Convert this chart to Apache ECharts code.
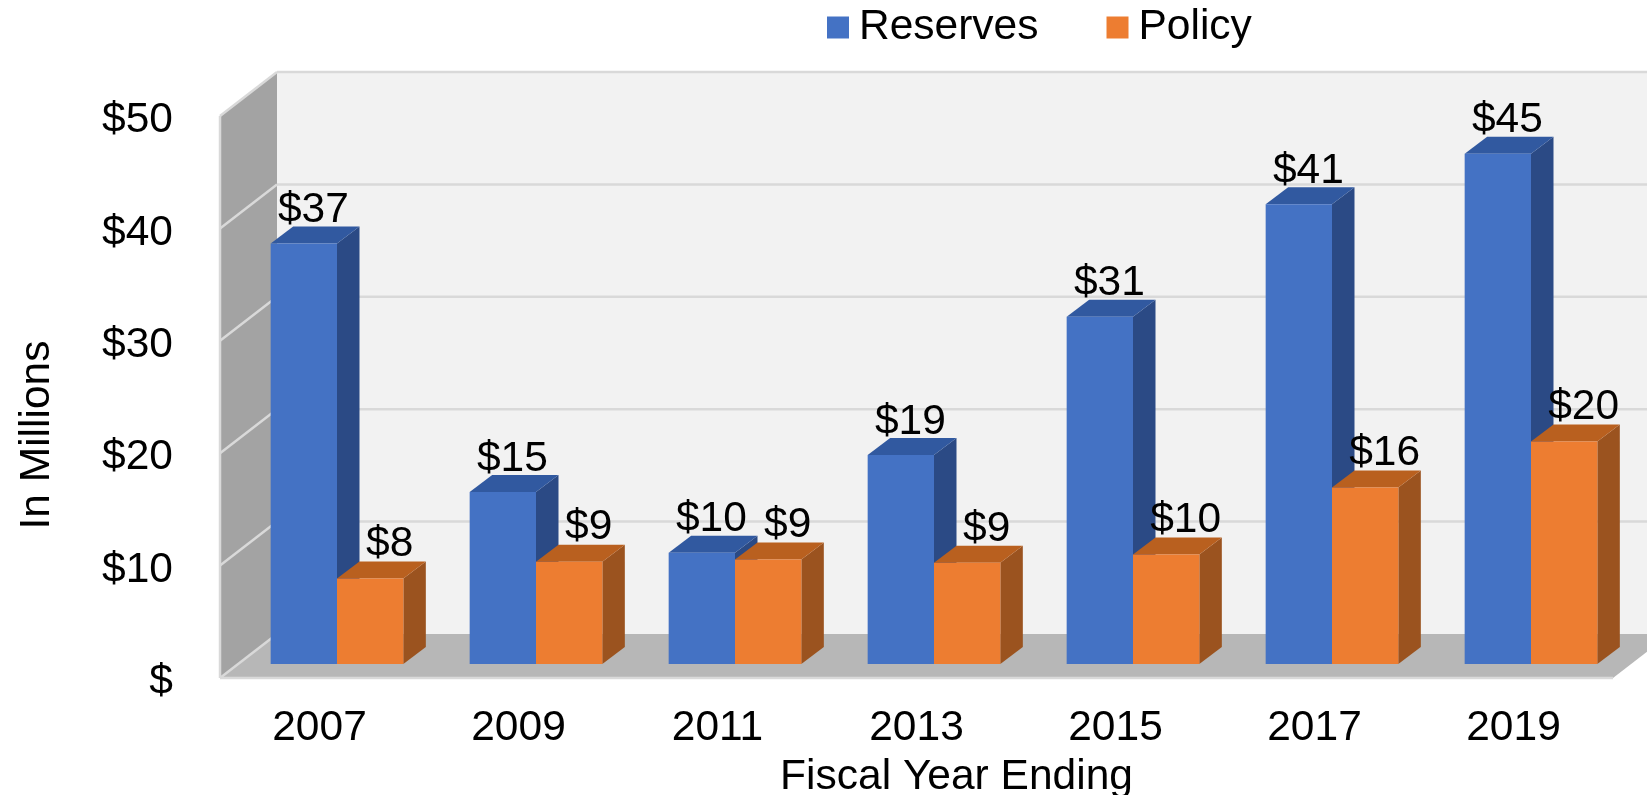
<!DOCTYPE html>
<html>
<head>
<meta charset="utf-8">
<style>html,body{margin:0;padding:0;background:#fff;overflow:hidden}#c{width:1647px;height:795px}</style>
<script src="https://cdn.jsdelivr.net/npm/echarts@6/dist/echarts.min.js"></script>
</head>
<body>
<div id="c"></div>
<script>
var categories = ['2007','2009','2011','2013','2015','2017','2019'];
var reserves = [37.4, 15.3, 9.9, 18.6, 30.9, 40.9, 45.4];
var policy = [7.6, 9.1, 9.3, 9.0, 9.75, 15.7, 19.8];
var yTicks = [0, 10, 20, 30, 40, 50];

var FONT = '"Liberation Sans", Arial, sans-serif';
var FS = 42.5;
// Oblique projection of the 3D chart box (pixels)
var BOX_DX = 57, BOX_DY = 44;   // full floor depth
var BAR_OX = 17.5, BAR_OY = 14; // bar front plane offset from front of box
var BAR_DX = 22.5, BAR_DY = 17; // bar depth

function poly(points, fill, z2) {
  return { type: 'polygon', shape: { points: points }, style: { fill: fill }, z2: z2 || 0, silent: true };
}
function seg(x1, y1, x2, y2) {
  return { type: 'line', shape: { x1: x1, y1: y1, x2: x2, y2: y2 },
    style: { stroke: '#D9D9D9', lineWidth: 2.5, fill: null }, silent: true };
}

function renderBox(params, api) {
  var cs = params.coordSys;
  var l = cs.x, r = cs.x + cs.width, t = cs.y, b = cs.y + cs.height;
  var ch = [
    poly([[l + BOX_DX, t - BOX_DY], [r + BOX_DX, t - BOX_DY], [r + BOX_DX, b - BOX_DY], [l + BOX_DX, b - BOX_DY]], '#F2F2F2'),
    poly([[l, t], [l + BOX_DX, t - BOX_DY], [l + BOX_DX, b - BOX_DY], [l, b]], '#A3A3A3'),
    poly([[l, b], [r, b], [r + BOX_DX, b - BOX_DY], [l + BOX_DX, b - BOX_DY]], '#B7B7B7')
  ];
  yTicks.forEach(function (v) {
    var y = api.coord([0, v])[1];
    if (v > 0) ch.push(seg(l + BOX_DX, y - BOX_DY, r + BOX_DX, y - BOX_DY));
    ch.push(seg(l, y, l + BOX_DX, y - BOX_DY));
  });
  ch.push(seg(l, t, l, b));
  ch.push(seg(l, b, r, b));
  return { type: 'group', children: ch };
}

function makeBar(side, front, top, dark, labelShift, labelLift) {
  return function (params, api) {
    var c = api.coord([api.value(0), api.value(1)]);
    var base = api.coord([api.value(0), 0]);
    var w = api.size([1, 0])[0] / 3;
    var cx = c[0] + BAR_OX;
    var x0 = side < 0 ? cx - w : cx;
    var x1 = x0 + w;
    var yt = c[1] - BAR_OY, yb = base[1] - BAR_OY;
    return { type: 'group', children: [
      poly([[x1, yt], [x1 + BAR_DX, yt - BAR_DY], [x1 + BAR_DX, yb - BAR_DY], [x1, yb]], dark),
      poly([[x0, yt], [x1, yt], [x1 + BAR_DX, yt - BAR_DY], [x0 + BAR_DX, yt - BAR_DY]], top),
      { type: 'rect', shape: { x: x0, y: yt, width: w, height: yb - yt }, style: { fill: front } },
      { type: 'text', z2: 10, style: {
        text: '$' + Math.round(api.value(1)),
        x: (x0 + x1) / 2 + labelShift, y: yt - BAR_DY - labelLift,
        align: 'center', verticalAlign: 'middle',
        font: FS + 'px ' + FONT, fill: '#000' } }
    ] };
  };
}

function pairs(values) {
  return values.map(function (v, i) { return [i, v]; });
}

var chart = echarts.init(document.getElementById('c'), null, { renderer: 'canvas' });
chart.setOption({
  animation: false,
  backgroundColor: '#fff',
  legend: {
    data: [{ name: 'Reserves', icon: 'rect' }, { name: 'Policy', icon: 'rect' }],
    left: 827, top: 6, itemWidth: 22, itemHeight: 22, itemGap: 68,
    padding: 0, selectedMode: false,
    textStyle: { fontFamily: FONT, fontSize: FS, color: '#000', padding: [4, 0, 0, 5] }
  },
  grid: { left: 220, top: 116, width: 1393, height: 562, containLabel: false, outerBoundsMode: 'none' },
  xAxis: {
    type: 'category', data: categories,
    name: 'Fiscal Year Ending', nameLocation: 'middle', nameGap: 78, nameMoveOverlap: false,
    nameTextStyle: { fontFamily: FONT, fontSize: FS, color: '#000', padding: [0, 0, 0, 80] },
    axisLine: { show: false }, axisTick: { show: false },
    axisLabel: { fontFamily: FONT, fontSize: FS, color: '#000', margin: 29 }
  },
  yAxis: {
    type: 'value', min: 0, max: 50, interval: 10,
    name: 'In Millions', nameLocation: 'middle', nameGap: 161, nameMoveOverlap: false,
    nameTextStyle: { fontFamily: FONT, fontSize: FS, color: '#000', padding: [0, 76, 0, 0] },
    axisLine: { show: false }, axisTick: { show: false }, splitLine: { show: false },
    axisLabel: { fontFamily: FONT, fontSize: FS, color: '#000', margin: 47,
      formatter: function (v) { return '{t|' + (v === 0 ? '$' : '$' + v) + '}'; },
      rich: { t: { fontFamily: FONT, fontSize: FS, color: '#000', padding: [9, 0, 0, 0] } } }
  },
  series: [
    { type: 'custom', name: 'box', silent: true, z: 1, renderItem: renderBox, data: [[0, 0]], encode: { x: 0, y: 1 } },
    { type: 'custom', name: 'Reserves', z: 2, itemStyle: { color: '#4472C4' },
      renderItem: makeBar(-1, '#4472C4', '#3159A0', '#2B4A85', 9.5, 16), data: pairs(reserves), encode: { x: 0, y: 1 } },
    { type: 'custom', name: 'Policy', z: 3, itemStyle: { color: '#ED7D31' },
      renderItem: makeBar(1, '#ED7D31', '#B9601F', '#9B531F', 19.5, 17), data: pairs(policy), encode: { x: 0, y: 1 } }
  ]
});
</script>
</body>
</html>
